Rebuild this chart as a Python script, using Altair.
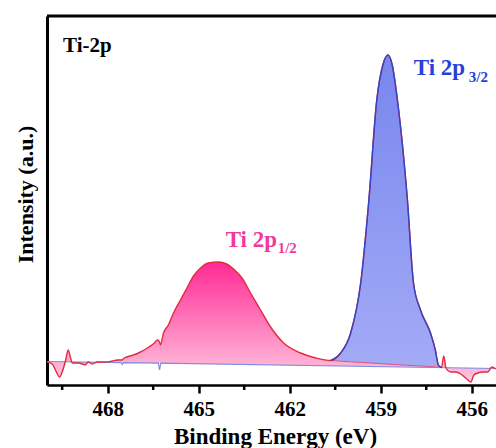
import altair as alt
import pandas as pd

# Binding energy grid (eV)
ev = [469.99, 469.83, 469.69, 469.59, 469.50, 469.40, 469.30, 469.23, 469.17, 468.97,
      468.83, 468.74, 468.64, 468.51, 468.34, 468.08, 467.85, 467.68, 467.54, 467.45,
      467.15, 466.92, 466.69, 466.46, 466.36, 466.29, 466.26, 466.16, 466.00, 465.83,
      465.60, 465.37, 465.17, 464.94, 464.68, 464.35, 464.08, 463.85, 463.55, 463.29,
      462.96, 462.63, 462.20, 461.64, 461.14, 460.65, 460.32, 459.99, 459.66, 459.39,
      459.13, 458.93, 458.76, 458.62, 458.45, 458.12, 457.92, 457.69, 457.36, 457.20,
      457.10, 457.00, 456.92, 456.85, 456.69, 456.52, 456.36, 456.20, 456.03, 455.93,
      455.80, 455.64, 455.47, 455.34, 455.20]
# Envelope (fit sum) intensity, a.u.
env = [23, 21, 13, 8, 13, 23, 35, 28, 22, 22,
       21, 20, 23, 21, 23, 23, 24, 25, 25, 27,
       30, 33, 37, 42, 45, 43, 40, 52, 60, 72,
       85, 98, 109, 117, 122, 123, 121, 116, 106, 92,
       75, 58, 42, 32, 27, 24.5, 32, 52, 102, 185,
       285, 320, 330, 320, 285, 185, 102, 75, 52, 35,
       20, 17.5, 29, 17, 13, 13, 11, 7, 3, 10,
       12, 13, 13, 18, 16]
# Background (Shirley-like) intensity
bg = [23.5, 23.4, 23.4, 23.3, 23.3, 23.2, 23.2, 23.1, 23.1, 23.0,
      23.0, 22.9, 22.9, 22.8, 22.7, 22.6, 22.5, 22.4, 22.3, 22.3,
      22.2, 22.0, 21.9, 21.8, 21.8, 21.8, 21.7, 21.7, 21.6, 21.5,
      21.4, 21.3, 21.2, 21.1, 21.0, 20.8, 20.7, 20.6, 20.5, 20.3,
      20.2, 20.0, 19.8, 19.6, 19.3, 19.1, 18.9, 18.8, 18.6, 18.5,
      18.4, 18.3, 18.2, 18.1, 18.0, 17.9, 17.8, 17.7, 17.5, 17.4,
      17.4, 17.3, 17.3, 17.3, 17.2, 17.1, 17.0, 16.9, 16.9, 16.8,
      16.8, 16.7, 16.6, 16.6, 16.5]
# Ti 2p1/2 tail underneath the Ti 2p3/2 peak (460.32 .. 457.10 eV)
p12_tail = [23.8, 23.2, 22.6, 22.1, 21.6, 21.2, 20.9, 20.6, 20.3, 19.7,
            19.4, 19.0, 18.5, 18.2, 18.0]
# Baseline line with small residual dips
bl_ev = [470.0, 467.56, 467.52, 467.48, 466.33, 466.29, 466.25, 455.2]
bl_val = [23.5, 22.3, 20.5, 22.3, 21.8, 15, 21.8, 16.5]

major_ticks = [468, 465, 462, 459, 456]
minor_ticks = [469.5, 466.5, 463.5, 460.5, 457.5]

label_main = ["Ti 2p", "Ti 2p"]
label_sub = ["1/2", "3/2"]
label_ev = [464.11, 457.91]
label_int = [138, 310]

W, H = 449, 369
FONT = "Liberation Serif"

pink_top = env[:46] + p12_tail + env[61:]
df = pd.DataFrame({"ev": ev, "env": env, "bg": bg, "ptop": pink_top})
blue_df = df.iloc[45:62].reset_index(drop=True)
bl_df = pd.DataFrame({"ev": bl_ev, "env": bl_val})

xs = alt.Scale(domain=[470, 455.2], zero=False, nice=False)
ys = alt.Scale(domain=[0, 369], zero=False, nice=False)

x_axis = alt.Axis(values=major_ticks, format="d", title="Binding Energy (eV)", grid=False,
                  tickSize=8, tickWidth=2.5, tickColor="black", domainWidth=2.5,
                  domainColor="black", labelFont=FONT, labelFontWeight="bold",
                  labelFontSize=21, labelColor="black", labelBaseline="alphabetic",
                  labelPadding=22, labelFlush=False, titleFont=FONT, titleFontWeight="bold",
                  titleFontSize=23, titleColor="black", titleX=228, titleY=58,
                  titleBaseline="alphabetic")
y_axis = alt.Axis(title="Intensity (a.u.)", ticks=False, labels=False, grid=False,
                  domainWidth=3, domainColor="black", titleFont=FONT, titleFontWeight="bold",
                  titleFontSize=22, titleColor="black", titleX=-15, titleY=178,
                  titleAngle=270, titleBaseline="alphabetic", titleAlign="center")

X = alt.X("ev:Q", scale=xs, axis=x_axis)


def Y(f):
    return alt.Y(f"{f}:Q", scale=ys, axis=y_axis)


pink_grad = alt.Gradient(gradient="linear",
                         stops=[alt.GradientStop(color="#ff2a95", offset=0),
                                alt.GradientStop(color="#ffc8e0", offset=1)],
                         x1=1, x2=1, y1=0, y2=1)
blue_grad = alt.Gradient(gradient="linear",
                         stops=[alt.GradientStop(color="#7886ee", offset=0),
                                alt.GradientStop(color="#a3abf6", offset=1)],
                         x1=1, x2=1, y1=0, y2=1)

INTERP = "monotone"
pink_area = alt.Chart(df).mark_area(color=pink_grad, clip=True, interpolate=INTERP).encode(
    x=X, y=Y("ptop"), y2="bg:Q")
blue_area = alt.Chart(blue_df).mark_area(color=blue_grad, clip=True, interpolate=INTERP).encode(
    x=X, y=Y("env"), y2="ptop:Q")
tail_line = alt.Chart(blue_df).mark_line(color="#e0507a", strokeWidth=1, clip=True,
                                         interpolate=INTERP).encode(x=X, y=Y("ptop"))
bl_line = alt.Chart(bl_df).mark_line(color="#7d8ee6", strokeWidth=1.2, clip=True).encode(
    x=X, y=Y("env"))
env_line = alt.Chart(df).mark_line(color="#e42a3c", strokeWidth=1.4, clip=True,
                                   interpolate=INTERP).encode(x=X, y=Y("env"))
blue_line = alt.Chart(blue_df).mark_line(color="#3344c4", strokeWidth=1.4, clip=True,
                                         interpolate=INTERP).encode(x=X, y=Y("env"))

minor_df = pd.DataFrame({"ev": minor_ticks})
minor = alt.Chart(minor_df).mark_rule(color="black", strokeWidth=2.5).encode(
    x=X, y=alt.value(H), y2=alt.value(H + 5))
top_border = alt.Chart(pd.DataFrame({"ev": [470]})).mark_rule(color="black", strokeWidth=3).encode(
    x=alt.value(0), x2=alt.value(W), y=alt.value(0))

lab_df = pd.DataFrame({"ev": label_ev, "env": label_int, "main": label_main, "sub": label_sub})
pink_lab = alt.Chart(lab_df.iloc[[0]]).mark_text(
    align="left", baseline="alphabetic", font=FONT, fontWeight="bold", fontSize=23,
    color="#f0399c").encode(x=X, y=Y("env"), text="main:N")
pink_sub = alt.Chart(lab_df.iloc[[0]]).mark_text(
    align="left", baseline="alphabetic", font=FONT, fontWeight="bold", fontSize=15,
    color="#f0399c", dx=52, dy=6).encode(x=X, y=Y("env"), text="sub:N")
blue_lab = alt.Chart(lab_df.iloc[[1]]).mark_text(
    align="left", baseline="alphabetic", font=FONT, fontWeight="bold", fontSize=23,
    color="#2b3fd8").encode(x=X, y=Y("env"), text="main:N")
blue_sub = alt.Chart(lab_df.iloc[[1]]).mark_text(
    align="left", baseline="alphabetic", font=FONT, fontWeight="bold", fontSize=15,
    color="#2b3fd8", dx=55, dy=7).encode(x=X, y=Y("env"), text="sub:N")

panel = alt.Chart(pd.DataFrame({"t": ["Ti-2p"]})).mark_text(
    align="left", baseline="alphabetic", font=FONT, fontWeight="bold", fontSize=21,
    color="black").encode(x=alt.value(16), y=alt.value(36), text="t:N")

chart = alt.layer(
    pink_area, blue_area, tail_line, bl_line, env_line, blue_line,
    minor, top_border, pink_lab, pink_sub, blue_lab, blue_sub, panel
).properties(
    width=W, height=H,
    autosize=alt.AutoSizeParams(type="none"),
    padding={"left": 47, "top": 16, "right": 0, "bottom": 63},
    background="white",
).configure_view(stroke=None)

chart.save("out.html", embed_options={"renderer": "svg", "actions": False})
